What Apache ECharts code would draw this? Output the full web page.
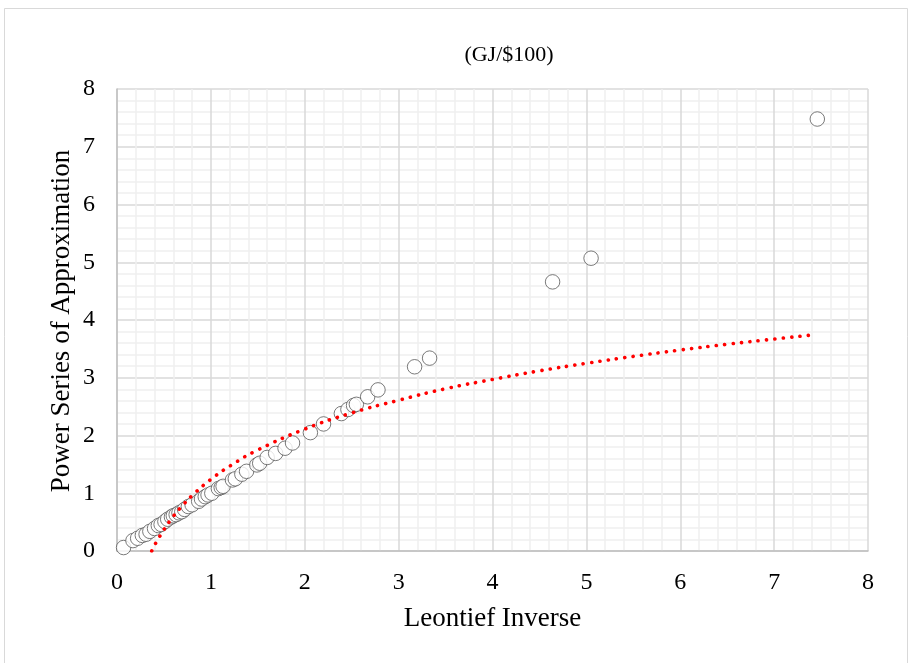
<!DOCTYPE html>
<html>
<head>
<meta charset="utf-8">
<script src="https://cdn.jsdelivr.net/npm/echarts@6/dist/echarts.min.js"></script>
<style>
html,body{margin:0;padding:0;background:#fff;}
#chart{width:911px;height:663px;}
</style>
</head>
<body>
<div id="chart"></div>
<script>
// Observed points: Leontief Inverse (x) vs Power Series of Approximation (y)
var leontiefX = [0.07,0.17,0.22,0.27,0.31,0.35,0.40,0.44,0.47,0.51,0.54,0.58,0.60,0.63,0.66,0.69,0.72,0.76,0.80,0.87,0.90,0.94,0.97,1.01,1.08,1.11,1.13,1.23,1.26,1.33,1.38,1.49,1.52,1.60,1.69,1.79,1.87,2.06,2.20,2.39,2.46,2.52,2.55,2.67,2.78,3.17,3.33,4.64,5.05,7.46];
var powerSeriesY = [0.06,0.18,0.22,0.27,0.29,0.34,0.39,0.44,0.46,0.51,0.55,0.59,0.61,0.63,0.66,0.68,0.72,0.77,0.80,0.86,0.90,0.94,0.97,1.00,1.08,1.10,1.12,1.23,1.25,1.33,1.38,1.49,1.52,1.62,1.69,1.78,1.87,2.05,2.20,2.38,2.45,2.52,2.54,2.67,2.79,3.19,3.34,4.66,5.07,7.48];
// Trendline (red dotted)
var trendX = [0.37,0.40,0.45,0.50,0.60,0.70,0.80,1.00,1.25,1.50,2.00,2.50,3.00,3.50,4.00,4.50,5.00,5.50,6.00,6.50,7.00,7.40];
var trendY = [0.00,0.10,0.24,0.37,0.60,0.79,0.96,1.24,1.52,1.75,2.11,2.39,2.61,2.81,2.97,3.12,3.25,3.37,3.48,3.58,3.67,3.74];
var axisTicks = {min:0, max:8, interval:1};
var titleText = '(GJ/$100)';
var xName = 'Leontief Inverse';
var yName = 'Power Series of Approximation';

var pts = leontiefX.map(function(x,i){return [x, powerSeriesY[i]];});
var trend = trendX.map(function(x,i){return [x, trendY[i]];});

var serif = '"Liberation Serif","DejaVu Serif",serif';
var chart = echarts.init(document.getElementById('chart'), null, {renderer:'canvas'});

function axisCfg(isX){
  return {
    type:'value', min:axisTicks.min, max:axisTicks.max, interval:axisTicks.interval,
    axisLine:{show:true, onZero:false, lineStyle:{color:'#bfbfbf', width:1.5}},
    axisTick:{show:false},
    axisLabel:{color:'#000', fontFamily:serif, fontSize:24, margin: isX ? 20 : 22},
    splitLine:{show:true, lineStyle:{color:'#d9d9d9', width:1.5}},
    minorTick:{show:false, splitNumber:5},
    minorSplitLine:{show:true, lineStyle:{color:'#efefef', width:1.5}}
  };
}

var option = {
  backgroundColor:'#fff',
  animation:false,
  graphic:[{
    type:'rect', silent:true,
    shape:{x:4.5, y:8.5, width:903, height:670},
    style:{fill:'none', stroke:'#d9d9d9', lineWidth:1}
  },{
    type:'text', silent:true,
    style:{text:titleText, font:'22px ' + serif, fill:'#000', textAlign:'center', textVerticalAlign:'middle', x:509, y:55}
  },{
    type:'text', silent:true,
    style:{text:xName, font:'27px ' + serif, fill:'#000', textAlign:'center', textVerticalAlign:'middle', x:492.5, y:619}
  },{
    type:'text', silent:true, rotation:Math.PI/2, x:62, y:321,
    style:{text:yName, font:'27px ' + serif, fill:'#000', textAlign:'center', textVerticalAlign:'middle', x:0, y:0}
  }],
  grid:{left:117, right:43, top:89, bottom:112, containLabel:false},
  xAxis: axisCfg(true),
  yAxis: axisCfg(false),
  series:[{
    type:'scatter', data:pts, symbol:'circle', symbolSize:14.5, z:2,
    itemStyle:{color:'#ffffff', borderColor:'#595959', borderWidth:1}
  },{
    type:'line', data:trend, smooth:true, showSymbol:false, symbol:'none', z:3,
    lineStyle:{color:'#ff0000', width:3.6, type:[0.1,8.3], cap:'round'}
  }]
};
chart.setOption(option);
</script>
</body>
</html>
